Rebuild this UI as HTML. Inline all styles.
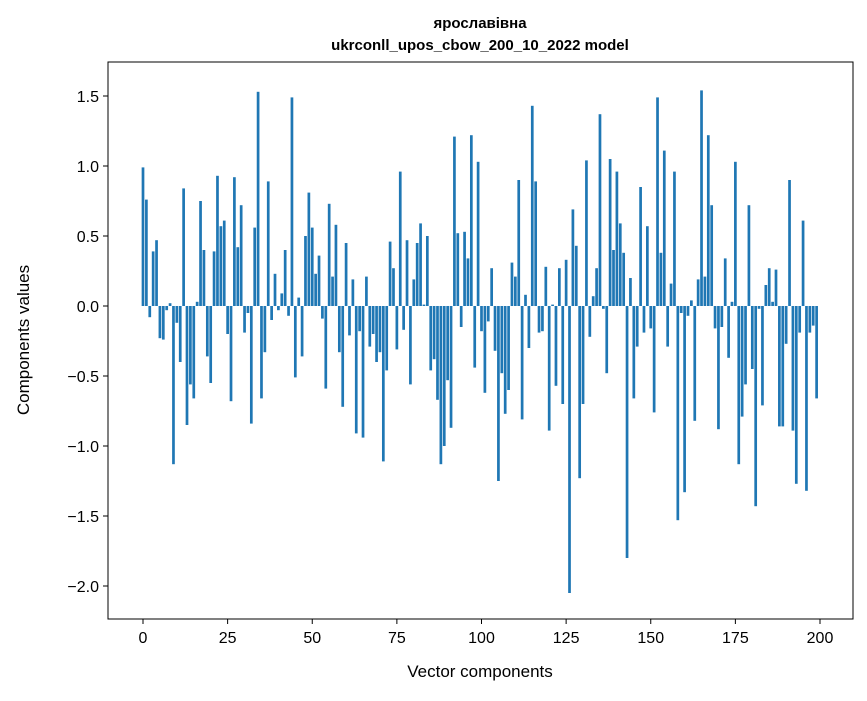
<!DOCTYPE html>
<html><head><meta charset="utf-8"><style>
body{margin:0;background:#fff;font-family:"Liberation Sans","DejaVu Sans",sans-serif;}
</style></head><body>
<svg width="867" height="696" xmlns="http://www.w3.org/2000/svg" font-family="'Liberation Sans','DejaVu Sans',sans-serif">
<rect width="867" height="696" fill="#fff"/>
<text x="480" y="28" text-anchor="middle" font-size="15" font-weight="bold">ярославівна</text>
<text x="480" y="50" text-anchor="middle" font-size="15" font-weight="bold">ukrconll_upos_cbow_200_10_2022 model</text>
<g id="bars"></g>
<g id="axes"></g>
<rect x="108" y="62" width="745" height="557" fill="none" stroke="#000" stroke-width="1"/>
<text x="480" y="677" text-anchor="middle" font-size="17">Vector components</text>
<text transform="translate(29,340) rotate(-90)" text-anchor="middle" font-size="17">Components values</text>
</svg>
<script>
const values=[0.99,0.76,-0.08,0.39,0.47,-0.23,-0.24,-0.03,0.02,-1.13,-0.12,-0.40,0.84,-0.85,-0.56,-0.66,0.03,0.75,0.40,-0.36,-0.55,0.39,0.93,0.57,0.61,-0.20,-0.68,0.92,0.42,0.72,-0.19,-0.05,-0.84,0.56,1.53,-0.66,-0.33,0.89,-0.10,0.23,-0.03,0.09,0.40,-0.07,1.49,-0.51,0.06,-0.36,0.50,0.81,0.56,0.23,0.36,-0.09,-0.59,0.73,0.21,0.58,-0.33,-0.72,0.45,-0.21,0.19,-0.91,-0.18,-0.94,0.21,-0.29,-0.20,-0.40,-0.33,-1.11,-0.46,0.46,0.27,-0.31,0.96,-0.17,0.47,-0.56,0.19,0.45,0.59,0.01,0.50,-0.46,-0.38,-0.67,-1.13,-1.00,-0.53,-0.87,1.21,0.52,-0.15,0.53,0.34,1.22,-0.44,1.03,-0.18,-0.62,-0.11,0.27,-0.32,-1.25,-0.48,-0.77,-0.60,0.31,0.21,0.90,-0.81,0.08,-0.30,1.43,0.89,-0.19,-0.18,0.28,-0.89,0.01,-0.57,0.27,-0.70,0.33,-2.05,0.69,0.43,-1.23,-0.70,1.04,-0.22,0.07,0.27,1.37,-0.02,-0.48,1.05,0.40,0.96,0.59,0.38,-1.80,0.20,-0.66,-0.29,0.85,-0.19,0.57,-0.16,-0.76,1.49,0.38,1.11,-0.29,0.16,0.96,-1.53,-0.05,-1.33,-0.07,0.04,-0.82,0.19,1.54,0.21,1.22,0.72,-0.16,-0.88,-0.15,0.34,-0.37,0.03,1.03,-1.13,-0.79,-0.56,0.72,-0.45,-1.43,-0.02,-0.71,0.15,0.27,0.03,0.26,-0.86,-0.86,-0.27,0.90,-0.89,-1.27,-0.19,0.61,-1.32,-0.19,-0.14,-0.66];
const xTicks=[0,25,50,75,100,125,150,175,200];
const yTicks=[-2.0,-1.5,-1.0,-0.5,0.0,0.5,1.0,1.5];
const NS='http://www.w3.org/2000/svg';
const xs=v=>143+v*3.385;
const ys=v=>306-v*140;
const bars=document.getElementById('bars');
values.forEach((v,i)=>{
  const r=document.createElementNS(NS,'rect');
  
  
  r.setAttribute('x',xs(i-0.4));
  r.setAttribute('width',3.385*0.8);
  r.setAttribute('y',Math.min(ys(v),ys(0)));
  r.setAttribute('height',Math.abs(ys(v)-ys(0)));
  r.setAttribute('fill','#1f77b4');
  bars.appendChild(r);
});
const axes=document.getElementById('axes');
xTicks.forEach(t=>{
  const l=document.createElementNS(NS,'line');
  
  
  l.setAttribute('x1',xs(t));l.setAttribute('x2',xs(t));
  l.setAttribute('y1',619);l.setAttribute('y2',624);l.setAttribute('stroke','#000');
  axes.appendChild(l);
  const tx=document.createElementNS(NS,'text');
  
  
  tx.setAttribute('x',xs(t));tx.setAttribute('y',643);
  tx.setAttribute('text-anchor','middle');tx.setAttribute('font-size','16');
  tx.textContent=t;
  axes.appendChild(tx);
});
yTicks.forEach(t=>{
  const l=document.createElementNS(NS,'line');
  
  
  l.setAttribute('x1',103);l.setAttribute('x2',108);
  l.setAttribute('y1',ys(t));l.setAttribute('y2',ys(t));l.setAttribute('stroke','#000');
  axes.appendChild(l);
  const tx=document.createElementNS(NS,'text');
  
  
  tx.setAttribute('x',99);tx.setAttribute('y',ys(t)+6);
  tx.setAttribute('text-anchor','end');tx.setAttribute('font-size','16');
  tx.textContent=(t<0?'\u2212':'')+Math.abs(t).toFixed(1);
  axes.appendChild(tx);
});
</script>
</body></html>
